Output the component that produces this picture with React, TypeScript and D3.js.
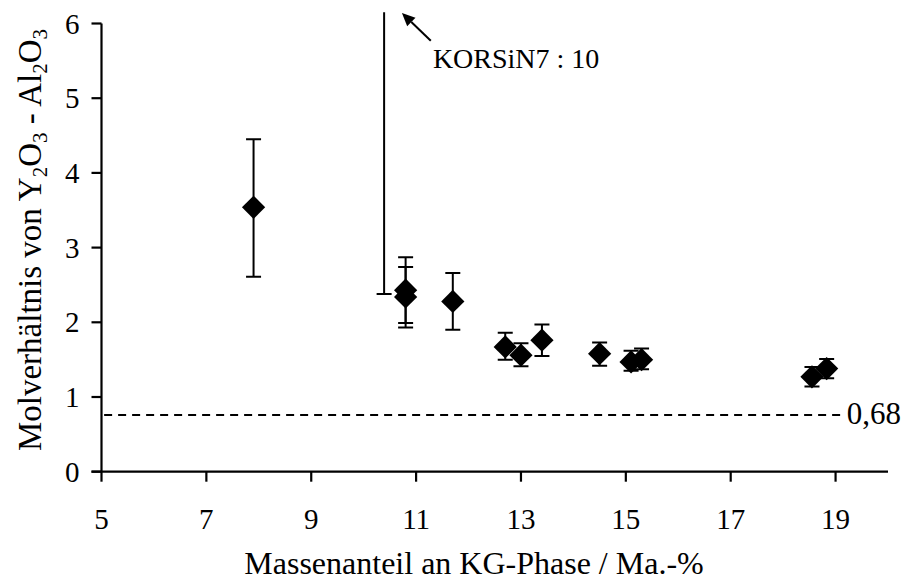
import React from "react";
import * as d3 from "d3";

const xVals = [7.9, 10.39, 10.8, 10.8, 11.7, 12.7, 13.0, 13.4, 14.5, 15.1, 15.3, 18.55, 18.83];
const yVals = [3.54, 10, 2.43, 2.34, 2.28, 1.67, 1.56, 1.76, 1.58, 1.47, 1.5, 1.27, 1.38];
const yLow = [2.61, 2.38, 1.99, 1.93, 1.9, 1.5, 1.41, 1.55, 1.42, 1.35, 1.37, 1.14, 1.25];
const yHigh = [4.45, 17.62, 2.87, 2.74, 2.66, 1.86, 1.72, 1.97, 1.73, 1.62, 1.65, 1.4, 1.51];

const xTicks = [5, 7, 9, 11, 13, 15, 17, 19];
const yTicks = [0, 1, 2, 3, 4, 5, 6];
const refLine = { value: 0.76, label: "0,68", xStart: 5.05, xEnd: 19.1 };
const annotation = { text: "KORSiN7 : 10", tipX: 10.73, tipY: 6.14, tailX: 11.28, tailY: 5.77, textX: 11.32, textY: 5.4 };

const W = 910;
const H = 587;
const FONT = "'Liberation Serif', 'Times New Roman', serif";

export default function App() {
  const x = d3.scaleLinear().domain([5, 20]).range([101.5, 888]);
  const y = d3.scaleLinear().domain([0, 6]).range([471.7, 23.5]);
  const diamond = d3.symbol(d3.symbolSquare, 270)() as string;
  const clipTop = y(6.15);

  const ax = x(5);
  const ay = y(0);

  const tx = x(annotation.tipX), ty = y(annotation.tipY);
  const sx = x(annotation.tailX), sy = y(annotation.tailY);
  const ang = Math.atan2(ty - sy, tx - sx);
  const hl = 13, hw = 6;
  const bx = tx - hl * Math.cos(ang), by = ty - hl * Math.sin(ang);
  const head = `M${tx},${ty}L${bx + hw * Math.sin(ang)},${by - hw * Math.cos(ang)}L${bx - hw * Math.sin(ang)},${by + hw * Math.cos(ang)}Z`;

  return (
    <svg width={W} height={H} style={{ position: "absolute", left: 0, top: 0, background: "#fff" }} fontFamily={FONT}>
      <defs>
        <clipPath id="plot">
          <rect x={ax} y={clipTop} width={x(20) - ax} height={ay - clipTop} />
        </clipPath>
      </defs>
      <line x1={x(refLine.xStart)} x2={x(refLine.xEnd)} y1={y(refLine.value)} y2={y(refLine.value)} stroke="#000" strokeWidth={2} strokeDasharray="8,6" />
      <text x={x(refLine.xEnd) + 6} y={y(refLine.value) + 9} fontSize={31}>{refLine.label}</text>

      <line x1={ax} x2={ax} y1={y(6)} y2={ay} stroke="#000" strokeWidth={2.2} />
      <line x1={ax - 10} x2={x(20)} y1={ay} y2={ay} stroke="#000" strokeWidth={2.2} />
      {yTicks.map((t) => (
        <g key={"y" + t}>
          <line x1={ax - 10} x2={ax} y1={y(t)} y2={y(t)} stroke="#000" strokeWidth={2.2} />
          <text x={ax - 22} y={y(t) + 10} fontSize={29} textAnchor="end">{t}</text>
        </g>
      ))}
      {xTicks.map((t) => (
        <g key={"x" + t}>
          <line x1={x(t)} x2={x(t)} y1={ay} y2={ay + 10} stroke="#000" strokeWidth={2.2} />
          <text x={x(t)} y={529} fontSize={29} textAnchor="middle">{t}</text>
        </g>
      ))}

      <g clipPath="url(#plot)" stroke="#000" strokeWidth={2}>
        {xVals.map((xv, i) => (
          <g key={"e" + i}>
            <line x1={x(xv)} x2={x(xv)} y1={y(yLow[i])} y2={y(yHigh[i])} />
            <line x1={x(xv) - 7.5} x2={x(xv) + 7.5} y1={y(yLow[i])} y2={y(yLow[i])} />
            <line x1={x(xv) - 7.5} x2={x(xv) + 7.5} y1={y(yHigh[i])} y2={y(yHigh[i])} />
          </g>
        ))}
      </g>
      <g clipPath="url(#plot)">
        {xVals.map((xv, i) => (
          <path key={"m" + i} d={diamond} transform={`translate(${x(xv)},${y(yVals[i])}) rotate(45)`} fill="#000" />
        ))}
      </g>

      <line x1={sx} y1={sy} x2={bx} y2={by} stroke="#000" strokeWidth={2} />
      <path d={head} fill="#000" />
      <text x={x(annotation.textX)} y={y(annotation.textY)} fontSize={28}>{annotation.text}</text>

      <text x={474} y={574} fontSize={32} textAnchor="middle">Massenanteil an KG-Phase / Ma.-%</text>
      <text transform={`translate(41,240) rotate(-90)`} fontSize={33} textAnchor="middle">
        Molverhältnis von Y<tspan fontSize={21} dy={6}>2</tspan>
        <tspan dy={-6}>O</tspan><tspan fontSize={21} dy={6}>3</tspan>
        <tspan dy={-6}> - Al</tspan><tspan fontSize={21} dy={6}>2</tspan>
        <tspan dy={-6}>O</tspan><tspan fontSize={21} dy={6}>3</tspan>
      </text>
    </svg>
  );
}
